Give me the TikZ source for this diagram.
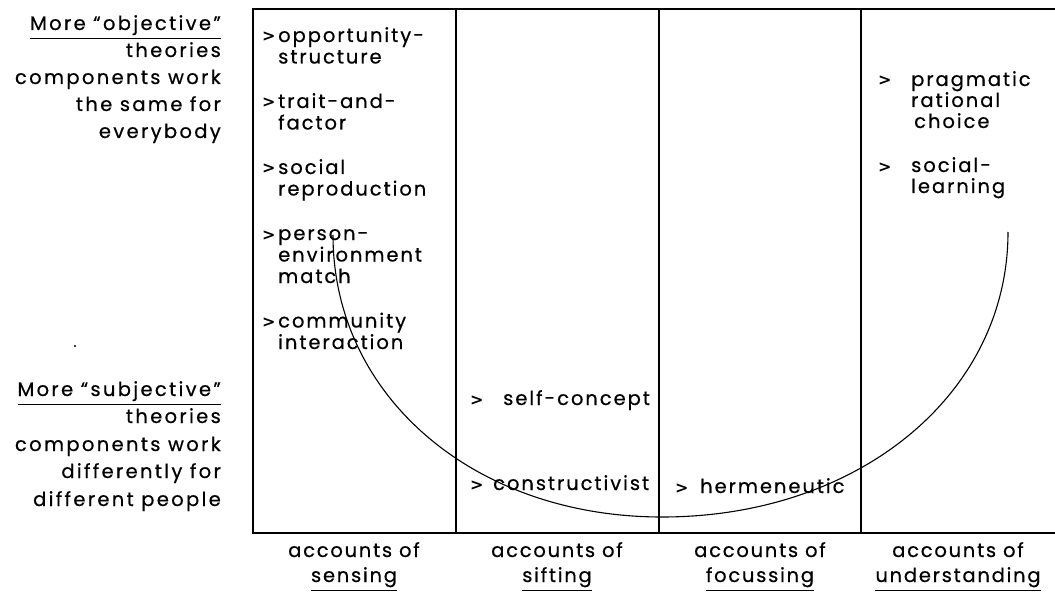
\documentclass[tikz,border=0pt]{standalone}
\usepackage{fontspec}
\setmainfont{Poppins}
\newfontfamily\pf{Poppins}[LetterSpace=12,FakeBold=0.5]
\newfontfamily\pfc{Poppins}[LetterSpace=10,FakeBold=0.5]
\newfontfamily\pfb{Poppins}[LetterSpace=9,FakeBold=0.5]
\newfontfamily\gtf{DejaVu Sans}
\newcommand\myul[1]{\leavevmode\vtop{\hbox{#1}\kern2.5pt\hrule height 1.4pt}}
\begin{document}
\begin{tikzpicture}[x=1pt,y=-1pt,
  lab/.style={font=\pf\fontsize{19.5}{22}\selectfont, inner sep=0pt, text=black},
  rlab/.style={lab, anchor=base east},
  llab/.style={font=\pfc\fontsize{19.5}{22}\selectfont, inner sep=0pt, text=black, anchor=base west},
  gt/.style={font=\gtf\bfseries\fontsize{16}{18}\selectfont, inner sep=0pt, text=black, anchor=base west},
  clab/.style={font=\pfb\fontsize{19.5}{22}\selectfont, inner sep=0pt, text=black, anchor=base},
  frame/.style={line width=2.8pt, line cap=rect},
  divider/.style={line width=2.3pt},
  arcline/.style={line width=1.1pt}]
\useasboundingbox (0,0) rectangle (1055,599);
\fill[white] (0,0) rectangle (1055,599);

% frame
\draw[frame] (1056,9) -- (253,9) -- (253,533) -- (1056,533);
\coordinate (d1t) at (456,9); \coordinate (d1b) at (456,533);
\coordinate (d2t) at (659,9); \coordinate (d2b) at (659,533);
\coordinate (d3t) at (861,9); \coordinate (d3b) at (861,533);
\draw[divider] (d1t) -- (d1b);
\draw[divider] (d2t) -- (d2b);
\draw[divider] (d3t) -- (d3b);

% left labels
\node[rlab] (o0) at (221,30) {\myul{More “objective”}};
\node[rlab] (o1) at (221,57) {theories};
\node[rlab] (o2) at (221,84) {components work};
\node[rlab] (o3) at (221,111) {the same for};
\node[rlab] (o4) at (221,138) {everybody};
\fill (75,346) circle (1.2pt);
\node[rlab] (s0) at (221,396) {\myul{More “subjective”}};
\node[rlab] (s1) at (221,423) {theories};
\node[rlab] (s2) at (221,451) {components work};
\node[rlab] (s3) at (221,478) {differently for};
\node[rlab] (s4) at (221,506) {different people};

% column 1
\node[gt] (g1) at (262,42) {>};
\node[llab] (a1) at (278,42) {opportunity-};
\node[llab] (a2) at (278,63.5) {structure};
\node[gt] (g2) at (262,108) {>};
\node[llab] (b1) at (278,108) {trait-and-};
\node[llab] (b2) at (278,129.5) {factor};
\node[gt] (g3) at (262,174) {>};
\node[llab] (c1) at (278,174) {social};
\node[llab] (c2) at (278,195.5) {reproduction};
\node[gt] (g4) at (262,240) {>};
\node[llab] (e1) at (278,240) {person-};
\node[llab] (e2) at (278,261.5) {environment};
\node[llab] (e3) at (278,283) {match};
\node[gt] (g5) at (262,327.5) {>};
\node[llab] (f1) at (278,327.5) {community};
\node[llab] (f2) at (278,349) {interaction};

% column 2
\node[gt] (g6) at (470,405) {>};
\node[llab] (h1) at (503,405) {self-concept};
\node[gt] (g7) at (470,490) {>};
\node[llab] (h2) at (493,490) {constructivist};

% column 3
\node[gt] (g8) at (675,493) {>};
\node[llab] (k1) at (700,493) {hermeneutic};

% column 4
\node[gt] (g9) at (878,86) {>};
\node[llab] (m1) at (911,86) {pragmatic};
\node[llab] (m2) at (911,107) {rational};
\node[llab] (m3) at (914,128) {choice};
\node[gt] (g10) at (878,172) {>};
\node[llab] (n1) at (911,172) {social-};
\node[llab] (n2) at (911,193) {learning};

% arc
\coordinate (cs) at (333,235);
\coordinate (cb) at (662,517);
\coordinate (ce) at (1008,232);
\draw[arcline] (cs) .. controls (333,396) and (474,517) .. (cb)
  .. controls (859,517) and (1008,394) .. (ce);

% bottom labels
\node[clab] (p1) at (354,557) {accounts of};
\node[clab] (q1) at (354,582) {\myul{sensing}};
\node[clab] (p2) at (557,557) {accounts of};
\node[clab] (q2) at (557,582) {\myul{sifting}};
\node[clab] (p3) at (760,557) {accounts of};
\node[clab] (q3) at (760,582) {\myul{focussing}};
\node[clab] (p4) at (958,557) {accounts of};
\node[clab] (q4) at (958,582) {\myul{understanding}};
\end{tikzpicture}
\end{document}
